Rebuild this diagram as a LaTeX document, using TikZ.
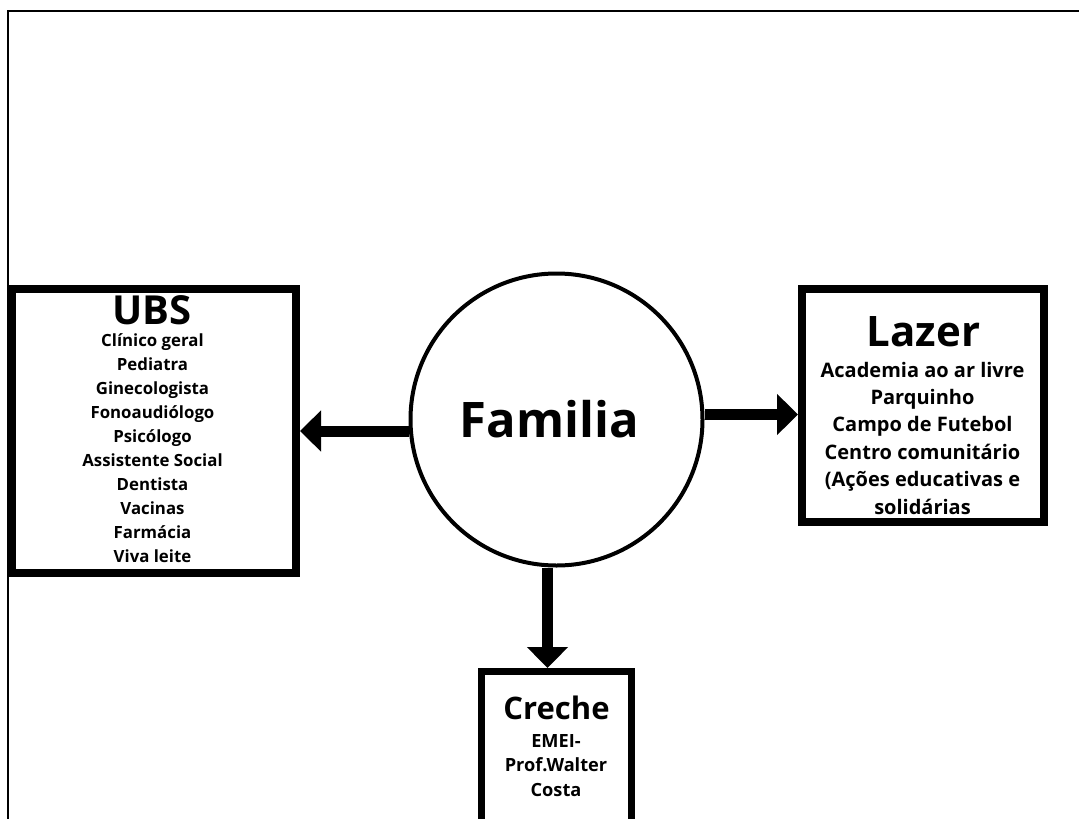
\documentclass[tikz,border=0pt]{standalone}
\usepackage{fontspec}
\setmainfont{Open Sans}
\usetikzlibrary{arrows.meta}
\usetikzlibrary{positioning}

\begin{document}
\begin{tikzpicture}[x=1pt,y=-1pt,
    box/.style={draw,line width=8pt,inner sep=0pt},
    ttl/.style={anchor=base,inner sep=0pt,font=\bfseries},
    lst/.style={anchor=base,inner sep=0pt,align=center},
    arr/.style={-{Triangle[length=21pt,width=40pt]},line width=11pt}]
    \clip (0,0) rectangle (1079,819);
    \draw[line width=2pt] (8.3,819) -- (8.3,11) -- (1079,11);
    \node[circle,draw,line width=4pt,minimum size=292pt,inner sep=0pt] (fam) at (556.5,419.5) {};
    \node[ttl,font=\fontsize{49}{58}\selectfont\bfseries] (famtxt) at (549.5,437) {Familia};
    \node[box,minimum width=284pt,minimum height=284pt] (ubs) at (154,431) {};
    \node[ttl,font=\fontsize{40}{48}\selectfont\bfseries] (ubsttl) at (152,324) {UBS};
    % base of a multi-line node = base of its last line
    \node[lst,font=\fontsize{16.8}{23.9}\selectfont\bfseries] (ubslst) at (152.5,562)
        {Clínico geral\\Pediatra\\Ginecologista\\Fonoaudiólogo\\Psicólogo\\Assistente Social\\Dentista\\Vacinas\\Farmácia\\Viva leite};
    \node[box,minimum width=242pt,minimum height=233pt] (lazer) at (923,405.5) {};
    \node[ttl,font=\fontsize{42}{50}\selectfont\bfseries] (lazerttl) at (923.5,346) {Lazer};
    \node[lst,font=\fontsize{20}{27.4}\selectfont\bfseries] (lazerlst) at (922.5,514)
        {Academia ao ar livre\\Parquinho\\Campo de Futebol\\Centro comunitário\\(Ações educativas e\\solidárias};
    \node[box,line width=7pt,minimum width=150pt,minimum height=200pt,anchor=north] (creche) at (556,668) {};
    \node[ttl,font=\fontsize{31}{37}\selectfont\bfseries] (crechettl) at (556.5,719) {Creche};
    \node[lst,font=\fontsize{18.2}{24.5}\selectfont\bfseries] (crechelst) at (556,796)
        {EMEI-\\Prof.Walter\\Costa};
    \coordinate (r) at ([yshift=5pt]fam.east);
    \coordinate (d) at ([xshift=-9pt]fam.south);
    \draw[arr] (fam.west |- ubs.east) -- (ubs.east);
    \draw[arr] (r) -- (lazer.west |- r);
    \draw[arr] (d) -- (d |- creche.north);
\end{tikzpicture}
\end{document}
